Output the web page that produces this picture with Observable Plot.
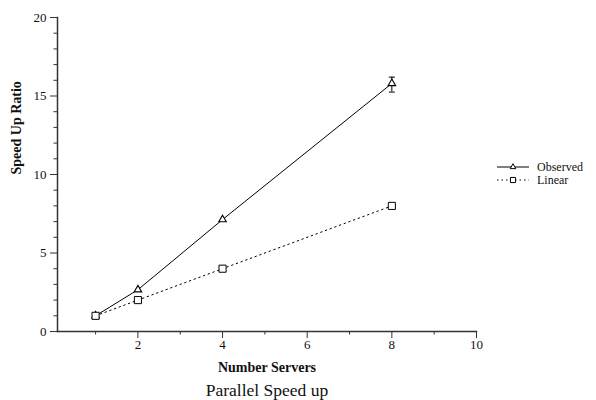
<!DOCTYPE html>
<html>
<head>
<meta charset="utf-8">
<script src="https://cdn.jsdelivr.net/npm/d3@7"></script>
<script src="https://cdn.jsdelivr.net/npm/@observablehq/plot@0.6"></script>
<style>
  html, body { margin: 0; padding: 0; background: #fff; }
  #chart { width: 596px; height: 400px; }
</style>
</head>
<body>
<div id="chart"></div>
<script>
// ---- data ----
const servers = [1, 2, 4, 8];
const observed = [1, 2.66, 7.13, 15.8];
const linear = [1, 2, 4, 8];
const errServers = [8];
const errLow = [15.25];
const errHigh = [16.2];
const seriesNames = ["Observed", "Linear"];
const xMajorTicks = [2, 4, 6, 8, 10];
const xMinorTicks = [1, 3, 5, 7, 9];
const yMajorTicks = [0, 5, 10, 15, 20];
const yMinorTicks = [1,2,3,4,6,7,8,9,11,12,13,14,16,17,18,19];
const xTitle = "Number Servers";
const yTitle = "Speed Up Ratio";
const caption = "Parallel Speed up";

const obsData = servers.map((x, i) => ({x, y: observed[i]}));
const linData = servers.map((x, i) => ({x, y: linear[i]}));
const errData = errServers.map((x, i) => ({x, lo: errLow[i], hi: errHigh[i]}));

const capSymbol = {
  draw(context, size) {
    const w = Math.sqrt(size / Math.PI);
    context.moveTo(-w, 0);
    context.lineTo(w, 0);
  }
};

const FONT = "Liberation Serif, Times New Roman, serif";
const axisColor = "#333";
const textColor = "#111";

const plot = Plot.plot({
  width: 596,
  height: 400,
  marginLeft: 57,
  marginRight: 120,
  marginTop: 17,
  marginBottom: 69,
  style: {fontFamily: FONT, fontSize: "12.5px", color: textColor, background: "#fff"},
  x: {domain: [0.1, 10]},
  y: {domain: [0, 20]},
  marks: [
    Plot.axisX({ticks: xMajorTicks, tickSize: 7, text: null, label: null, stroke: axisColor}),
    Plot.axisX({ticks: xMinorTicks, tickSize: 3.5, text: null, label: null, stroke: axisColor}),
    Plot.axisY({ticks: yMajorTicks, tickSize: 7, text: null, label: null, stroke: axisColor}),
    Plot.axisY({ticks: yMinorTicks, tickSize: 3.5, text: null, label: null, stroke: axisColor}),
    // tick labels
    Plot.text(xMajorTicks, {x: d => d, frameAnchor: "bottom", dy: 17, text: d => String(d), fontSize: 13, fill: textColor}),
    Plot.text(yMajorTicks, {y: d => d, frameAnchor: "left", dx: -11, textAnchor: "end", text: d => String(d), fontSize: 13, fill: textColor}),
    Plot.frame({anchor: "left", stroke: axisColor, strokeWidth: 1.5}),
    Plot.frame({anchor: "bottom", stroke: axisColor, strokeWidth: 1.5}),
    // Linear series
    Plot.line(linData, {x: "x", y: "y", stroke: "#000", strokeWidth: 1, strokeDasharray: "1.5,3.5"}),
    // Observed series
    Plot.line(obsData, {x: "x", y: "y", stroke: "#000", strokeWidth: 1}),
    // error bars
    Plot.ruleX(errData, {x: "x", y1: "lo", y2: "hi", stroke: "#000", strokeWidth: 1}),
    Plot.dot(errData, {x: "x", y: "lo", symbol: capSymbol, r: 3, stroke: "#000", strokeWidth: 1}),
    Plot.dot(errData, {x: "x", y: "hi", symbol: capSymbol, r: 3, stroke: "#000", strokeWidth: 1}),
    // markers
    Plot.dot(obsData, {x: "x", y: "y", symbol: "triangle", r: 2.8, fill: "#fff", stroke: "#000", strokeWidth: 1.1}),
    Plot.dot(linData, {x: "x", y: "y", symbol: "square", r: 4, fill: "#fff", stroke: "#000", strokeWidth: 1}),
    // titles
    Plot.text([xTitle], {frameAnchor: "bottom", dy: 40, text: d => d, fontWeight: "bold", fontSize: 14, fill: textColor}),
    Plot.text([caption], {frameAnchor: "bottom", dy: 64, text: d => d, fontSize: 17.5, fill: textColor}),
    Plot.text([yTitle], {frameAnchor: "left", dx: -41, rotate: -90, text: d => d, fontWeight: "bold", fontSize: 14, fill: textColor})
  ]
});

document.getElementById("chart").appendChild(plot);

// ---- legend ----
const svg = d3.select(plot);
const legend = svg.append("g").attr("font-family", FONT).attr("font-size", 12).attr("fill", textColor)
  .attr("text-anchor", "start");
const legendItems = [
  {name: seriesNames[0], dash: null, symbol: d3.symbolTriangle, size: Math.PI * 2.1 * 2.1},
  {name: seriesNames[1], dash: "1.5,3", symbol: d3.symbolSquare, size: Math.PI * 2.9 * 2.9}
];
legendItems.forEach((it, i) => {
  const y = 167 + i * 13;
  const g = legend.append("g").attr("transform", `translate(0,${y})`);
  g.append("line").attr("x1", 497).attr("x2", 529).attr("y1", 0).attr("y2", 0)
    .attr("stroke", "#000").attr("stroke-width", 1).attr("stroke-dasharray", it.dash);
  g.append("path").attr("d", d3.symbol(it.symbol, it.size)())
    .attr("transform", "translate(513,0)")
    .attr("fill", "#fff").attr("stroke", "#000").attr("stroke-width", 1);
  g.append("text").attr("x", 537).attr("y", 0).attr("dy", "0.35em").attr("text-anchor", "start").text(it.name);
});
</script>
</body>
</html>
